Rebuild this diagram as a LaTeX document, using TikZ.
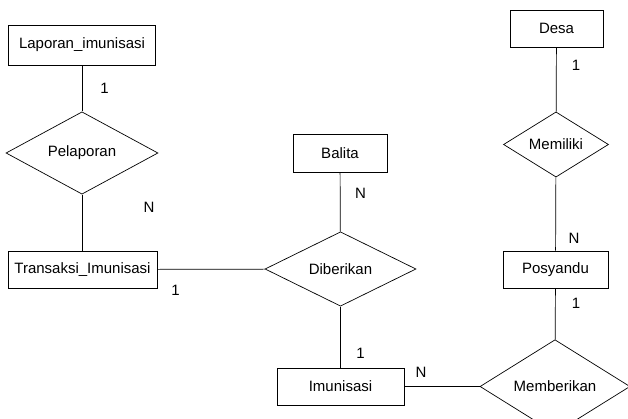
\documentclass[tikz,border=0pt]{standalone}
\usepackage{fontspec}
\setmainfont{Liberation Sans}
\usetikzlibrary{shapes.geometric}

\begin{document}
\begin{tikzpicture}[x=1pt, y=-1pt, line width=0.7pt,
	every node/.style={font=\fontsize{15}{17}\selectfont, inner sep=0pt},
	entity/.style={draw, rectangle},
	relation/.style={draw, diamond},
	card/.style={}]
			%%%%% START %%%%%
			
			\useasboundingbox (0, 0) rectangle (628, 419);
			
			\node[entity, minimum width=147, minimum height=40] (laporan) at (82, 45) {Laporan\_imunisasi};
			\node[entity, minimum width=149, minimum height=37] (transaksi) at (82.5, 269.5) {Transaksi\_Imunisasi};
			\node[entity, minimum width=94, minimum height=38] (balita) at (340, 153) {Balita};
			\node[entity, minimum width=127, minimum height=37] (imunisasi) at (340.5, 386.5) {Imunisasi};
			\node[entity, minimum width=93, minimum height=37] (desa) at (556.5, 28.5) {Desa};
			\node[entity, minimum width=105, minimum height=37] (posyandu) at (555.5, 269.5) {Posyandu};
			
			\node[relation, minimum width=152, minimum height=62] (pelaporan) at (82, 153) {Pelaporan};
			\node[relation, minimum width=151, minimum height=64] (diberikan) at (340.5, 269) {Diberikan};
			\node[relation, minimum width=105, minimum height=63] (memiliki) at (556, 144.5) {Memiliki};
			\node[relation, minimum width=150, minimum height=63] (memberikan) at (555, 386.5) {Memberikan};
			
			\draw (laporan) -- (pelaporan);
			\draw (pelaporan) -- (pelaporan |- transaksi.north);
			\draw (transaksi) -- (diberikan);
			\draw (balita) -- (diberikan);
			\draw (diberikan) -- (imunisasi);
			\draw (imunisasi) -- (memberikan);
			\draw (desa) -- (memiliki);
			\draw (memiliki) -- (posyandu);
			\draw (posyandu) -- (memberikan);
			
			\node[card] (c1) at (104.5, 88) {1};
			\node[card] (c2) at (149, 207.5) {N};
			\node[card] (c3) at (175.5, 290.5) {1};
			\node[card] (c4) at (360.5, 193) {N};
			\node[card] (c5) at (360.5, 353) {1};
			\node[card] (c6) at (421, 372) {N};
			\node[card] (c7) at (576, 65) {1};
			\node[card] (c8) at (574, 238.5) {N};
			\node[card] (c9) at (576, 303) {1};
			
			%%%%% END %%%%%
		\end{tikzpicture}
\end{document}
